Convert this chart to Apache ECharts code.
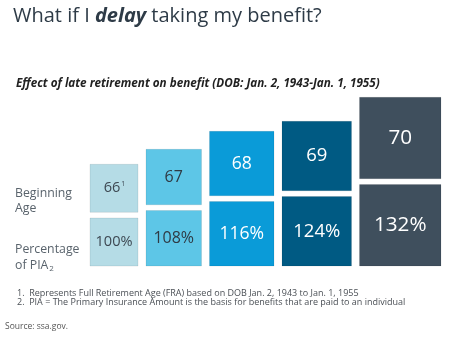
<!DOCTYPE html>
<html><head><meta charset="utf-8">
<script src="https://cdn.jsdelivr.net/npm/echarts@6/dist/echarts.min.js"></script>
<style>html,body{margin:0;padding:0;background:#fff}#c{width:450px;height:345px}</style>
</head><body><div id="c"></div>
<script>
const ages = ['66', '67', '68', '69', '70'];
const ageNotes = ['1', '', '', '', ''];
const percentages = ['100%', '108%', '116%', '124%', '132%'];
// side of each square (in axis units)
const boxSize = [48, 55.5, 64.5, 69.5, 81.5];
const boxColors = ['#b5dce6', '#5dc6e7', '#0a9bd8', '#005a83', '#3f4f5d'];
const textColors = ['#3d4852', '#2f3a44', '#ffffff', '#ffffff', '#ffffff'];

const GAP = 8, VGAP = 5.7;
const chart = echarts.init(document.getElementById('c'), null, {renderer: 'canvas'});
const FONT = '"Open Sans", sans-serif';

function renderItem(params, api) {
  const i = api.value(0);
  const s = api.value(1);
  let x0 = 0;
  for (let j = 0; j < i; j++) x0 += boxSize[j] + GAP;
  const bl = api.coord([x0, 0]);
  const tr = api.coord([x0 + s, s]);
  const bl2 = api.coord([x0, s + VGAP]);
  const tr2 = api.coord([x0 + s, 2 * s + VGAP]);
  const fs = 6 + 0.18 * s;
  const col = textColors[i];
  return {
    type: 'group',
    children: [
      {type: 'rect', shape: {x: bl[0], y: tr[1], width: tr[0] - bl[0], height: bl[1] - tr[1]},
       style: {fill: boxColors[i], stroke: 'rgba(0,0,0,0.08)', lineWidth: 1}},
      {type: 'text', x: (bl[0] + tr[0]) / 2, y: (bl[1] + tr[1]) / 2,
       style: {text: percentages[i], fill: col, font: fs.toFixed(1) + 'px ' + FONT, align: 'center', verticalAlign: 'middle'}},
      {type: 'rect', shape: {x: bl2[0], y: tr2[1], width: tr2[0] - bl2[0], height: bl2[1] - tr2[1]},
       style: {fill: boxColors[i], stroke: 'rgba(0,0,0,0.08)', lineWidth: 1}},
      {type: 'text', x: (bl2[0] + tr2[0]) / 2 + (ageNotes[i] ? -2 : 0), y: (bl2[1] + tr2[1]) / 2,
       style: {text: ages[i], fill: col, font: fs.toFixed(1) + 'px ' + FONT, align: 'center', verticalAlign: 'middle'}},
      ageNotes[i] ? {type: 'text', x: (bl2[0] + tr2[0]) / 2 + fs * 0.5, y: (bl2[1] + tr2[1]) / 2 - fs * 0.3,
       style: {text: ageNotes[i], fill: col, font: '7px ' + FONT, align: 'left', verticalAlign: 'middle'}} : null
    ].filter(Boolean)
  };
}

chart.setOption({
  animation: false,
  title: [
    {text: '{n|What if I }{b|delay}{n| taking my benefit?}', left: 8, top: 1,
     textStyle: {rich: {
       n: {fontFamily: FONT, fontSize: 20, color: '#2e3b47', fontWeight: 'normal'},
       b: {fontFamily: FONT, fontSize: 20, color: '#2e3b47', fontWeight: 'bold', fontStyle: 'italic'}
     }}},
    {text: 'Effect of late retirement on benefit (DOB: Jan. 2, 1943-Jan. 1, 1955)', left: 11, top: 73,
     textStyle: {fontFamily: FONT, fontSize: 11.7, fontWeight: 'bold', fontStyle: 'italic', color: '#222'}},
    {text: 'Beginning\nAge', left: 10, top: 181,
     textStyle: {fontFamily: FONT, fontSize: 12.3, fontWeight: 'normal', color: '#59636c', lineHeight: 15}},
    {text: '{t|Percentage}\n{t|of PIA}{s|2}', left: 10, top: 236,
     textStyle: {fontWeight: 'normal', rich: {
       t: {fontFamily: FONT, fontSize: 12.3, fontWeight: 'normal', color: '#59636c', lineHeight: 16},
       s: {fontFamily: FONT, fontSize: 8, fontWeight: 'normal', color: '#59636c', lineHeight: 16, verticalAlign: 'bottom', padding: [3, 0, 0, 1]}
     }}},
    {text: '1.  Represents Full Retirement Age (FRA) based on DOB Jan. 2, 1943 to Jan. 1, 1955\n2.  PIA = The Primary Insurance Amount is the basis for benefits that are paid to an individual',
     left: 12, top: 284,
     textStyle: {fontFamily: FONT, fontSize: 9, fontWeight: 'normal', color: '#4a4f55', lineHeight: 9}},
    {text: 'Source: ssa.gov.', left: 0, top: 317,
     textStyle: {fontFamily: FONT, fontSize: 8.5, fontWeight: 'normal', color: '#555'}}
  ],
  grid: {left: 90, top: 97, width: 352, height: 169},
  xAxis: {type: 'value', min: 0, max: 352, show: false},
  yAxis: {type: 'value', min: 0, max: 169, show: false},
  series: [{
    type: 'custom',
    renderItem: renderItem,
    data: boxSize.map((s, i) => [i, s]),
    clip: false
  }]
});
</script></body></html>
